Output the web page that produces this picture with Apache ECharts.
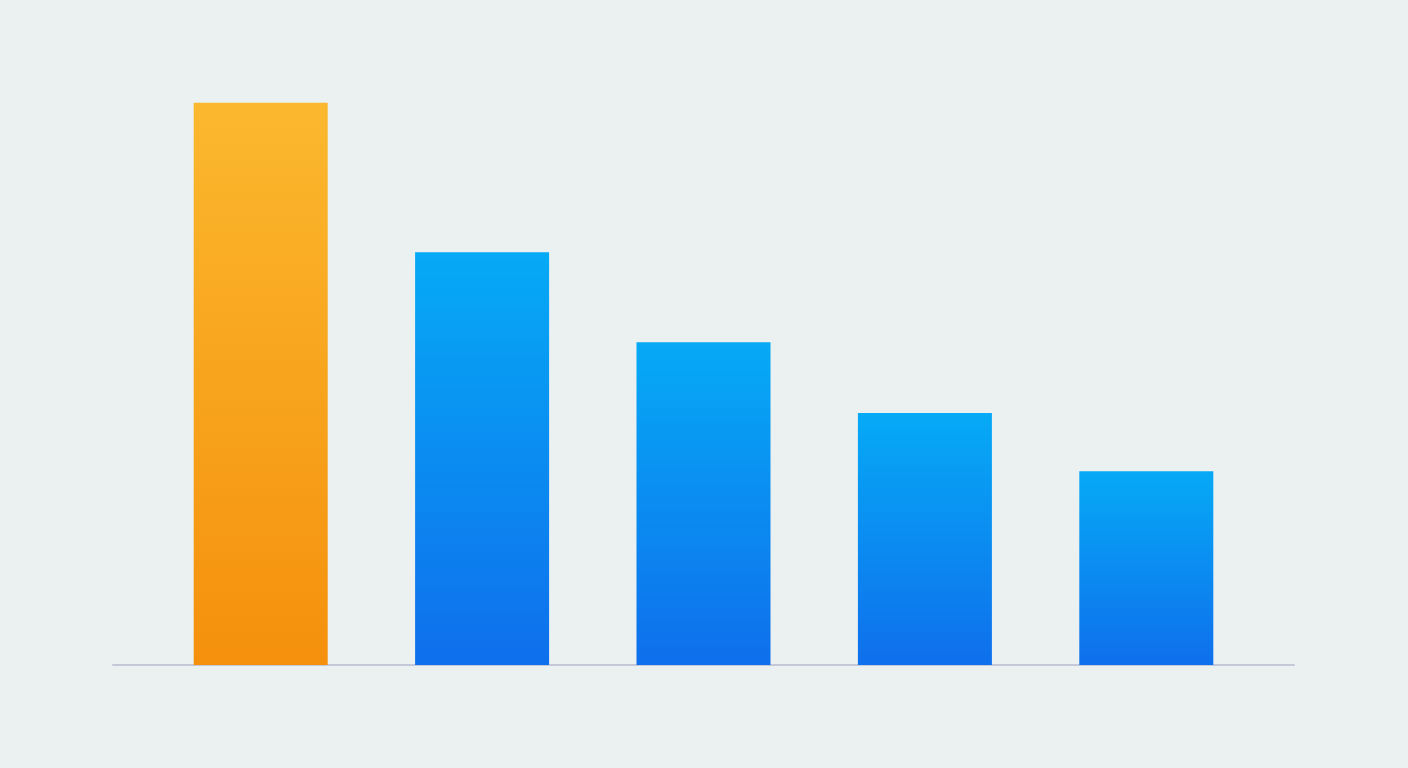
<!DOCTYPE html>
<html>
<head>
<meta charset="utf-8">
<script src="https://cdn.jsdelivr.net/npm/echarts@6/dist/echarts.min.js"></script>
<style>
html,body{margin:0;padding:0;background:#ebf0f1;}
#chart{width:1408px;height:768px;}
</style>
</head>
<body>
<div id="chart"></div>
<script>
const categories = ['A', 'B', 'C', 'D', 'E'];
const values = [93.7, 68.8, 53.8, 42.0, 32.3];
const highlightIndex = 0;

const orangeGrad = new echarts.graphic.LinearGradient(0, 0, 0, 1, [
  {offset: 0, color: '#fbb82e'},
  {offset: 1, color: '#f5900c'}
]);
const blueGrad = new echarts.graphic.LinearGradient(0, 0, 0, 1, [
  {offset: 0, color: '#06aaf6'},
  {offset: 1, color: '#0f6fec'}
]);

const chart = echarts.init(document.getElementById('chart'));
chart.setOption({
  backgroundColor: '#ebf0f1',
  animation: false,
  grid: [
    {left: 150, right: 151, top: 65, bottom: 103},
    {left: 113, right: 114, top: 65, bottom: 103}
  ],
  xAxis: [
    {type: 'category', gridIndex: 0, data: categories,
     axisLine: {show: false}, axisTick: {show: false}, axisLabel: {show: false}},
    {type: 'category', gridIndex: 1, data: categories,
     axisLine: {show: true, lineStyle: {color: '#c4c9da', width: 2}},
     axisTick: {show: false}, axisLabel: {show: false}}
  ],
  yAxis: [
    {type: 'value', gridIndex: 0, min: 0, max: 100, show: false, splitLine: {show: false}},
    {type: 'value', gridIndex: 1, min: 0, max: 100, show: false, splitLine: {show: false}}
  ],
  series: [{
    type: 'bar',
    xAxisIndex: 0,
    yAxisIndex: 0,
    barWidth: 134,
    data: values.map((v, i) => ({
      value: v,
      itemStyle: {color: i === highlightIndex ? orangeGrad : blueGrad}
    }))
  }]
});
</script>
</body>
</html>
